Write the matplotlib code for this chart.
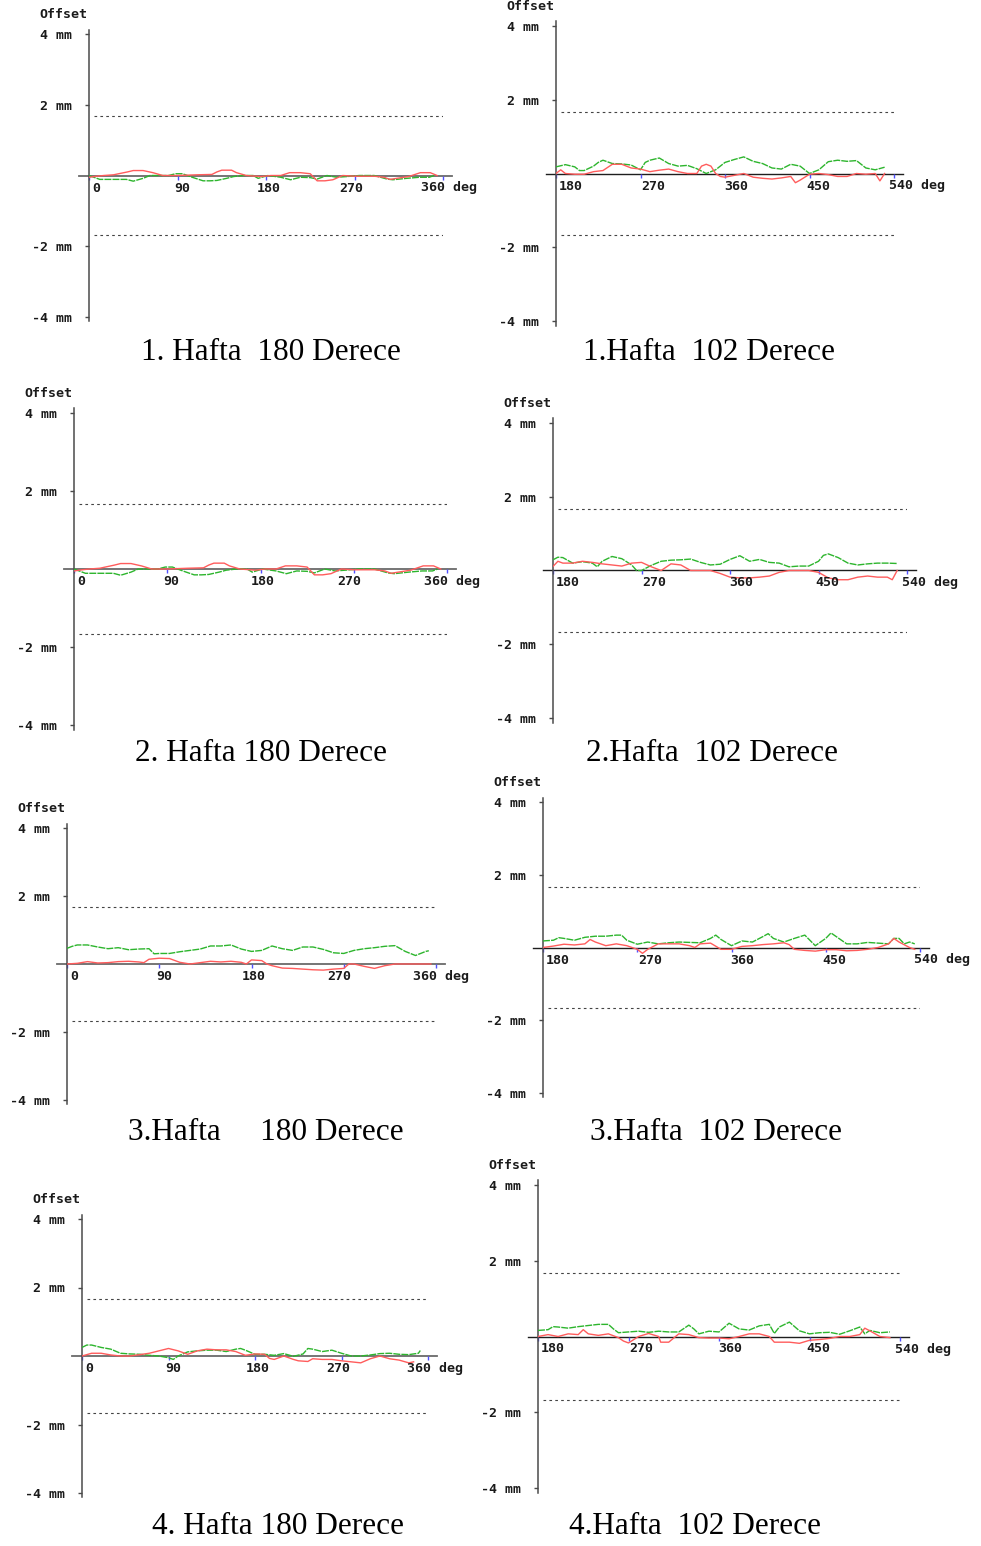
import matplotlib
matplotlib.use("Agg")
import matplotlib.pyplot as plt
from matplotlib.transforms import offset_copy

W, H = 981, 1546

captions = ["1. Hafta  180 Derece", "1.Hafta  102 Derece",
            "2. Hafta 180 Derece", "2.Hafta  102 Derece",
            "3.Hafta     180 Derece", "3.Hafta  102 Derece",
            "4. Hafta 180 Derece", "4.Hafta  102 Derece"]
y_ticks = [4, 2, -2, -4]
y_tick_labels = ["4 mm", "2 mm", "-2 mm", "-4 mm"]
limit_mm = 1.67

# --- 1. Hafta 180 Derece ---
w1_180_red_deg = [0, 8, 15, 25, 39, 45, 55, 65, 75, 90, 110, 125, 130, 135, 145, 150, 160, 175,
                  185, 195, 204, 215, 225, 232, 240, 248, 258, 270, 290, 300, 306, 313, 325, 337, 347, 354]
w1_180_red = [-0.05, -0.02, 0.0, 0.02, 0.1, 0.14, 0.14, 0.08, 0.0, 0.0, 0.02, 0.03, 0.1, 0.15, 0.15, 0.08, 0.0, -0.03,
              0.0, 0.0, 0.08, 0.08, 0.05, -0.15, -0.15, -0.12, 0.0, -0.02, -0.02, -0.05, -0.11, -0.08, -0.03, 0.08, 0.08, 0.0]
w1_180_green_deg = [0, 5, 11, 20, 30, 38, 45, 55, 62, 70, 81, 88, 95, 105, 116, 123, 130, 140, 147, 157, 167, 172,
                    182, 195, 205, 215, 225, 232, 242, 252, 262, 275, 290, 303, 309, 323, 336, 346, 351]
w1_180_green = [0, -0.05, -0.11, -0.11, -0.11, -0.11, -0.16, -0.08, 0.0, 0.0, 0.0, 0.05, 0.05, -0.05, -0.15, -0.15, -0.14,
                -0.08, -0.03, 0.0, 0.0, -0.08, 0.0, -0.05, -0.12, -0.05, -0.06, -0.10, 0.0, -0.05, -0.03, 0.0, 0.0,
                -0.10, -0.12, -0.08, -0.05, -0.05, 0.0]

# --- 1. Hafta 102 Derece ---
w1_102_red_deg = [180, 185, 190, 200, 210, 220, 230, 240, 250, 260, 270, 280, 290, 300, 310, 320, 330, 335, 340, 345,
                  350, 355, 360, 370, 380, 390, 400, 410, 420, 430, 435, 440, 450, 460, 470, 480, 490, 500, 510,
                  520, 525, 530]
w1_102_red = [0.0, 0.1, 0.0, -0.02, -0.02, 0.05, 0.08, 0.25, 0.25, 0.15, 0.12, 0.05, 0.09, 0.12, 0.05, 0.0, 0.0, 0.2,
              0.25, 0.2, 0.0, -0.08, -0.1, -0.05, 0.0, -0.1, -0.13, -0.15, -0.12, -0.08, -0.25, -0.18, -0.02, 0.0,
              -0.03, -0.08, -0.08, 0.0, -0.02, 0.0, -0.2, 0.0]
w1_102_green_deg = [180, 190, 200, 205, 210, 220, 225, 230, 240, 250, 260, 270, 275, 280, 290, 300, 310, 320, 330,
                    340, 350, 360, 370, 380, 390, 400, 410, 420, 430, 440, 450, 460, 470, 480, 490, 500, 510, 520, 530]
w1_102_green = [0.18, 0.24, 0.18, 0.08, 0.08, 0.2, 0.3, 0.36, 0.27, 0.26, 0.23, 0.1, 0.3, 0.36, 0.42, 0.27, 0.2, 0.22,
                0.13, 0.0, 0.1, 0.3, 0.38, 0.45, 0.33, 0.27, 0.15, 0.12, 0.25, 0.2, 0.0, 0.1, 0.32, 0.36, 0.33, 0.35,
                0.15, 0.1, 0.17]

# --- 2. Hafta 180 Derece ---
w2_180_red_deg = [0, 8, 15, 25, 39, 45, 55, 65, 75, 90, 110, 125, 130, 135, 145, 150, 160, 175,
                  185, 195, 204, 215, 225, 232, 240, 248, 258, 270, 290, 300, 306, 313, 325, 337, 347, 354]
w2_180_red = [-0.05, -0.02, 0.0, 0.02, 0.1, 0.14, 0.14, 0.08, 0.0, 0.0, 0.02, 0.03, 0.1, 0.15, 0.15, 0.08, 0.0, -0.03,
              0.0, 0.0, 0.08, 0.08, 0.05, -0.15, -0.15, -0.12, 0.0, -0.02, -0.02, -0.05, -0.11, -0.08, -0.03, 0.08, 0.08, 0.0]
w2_180_green_deg = [0, 5, 11, 20, 30, 38, 45, 55, 62, 70, 81, 88, 95, 105, 116, 123, 130, 140, 147, 157, 167, 172,
                    182, 195, 205, 215, 225, 232, 242, 252, 262, 275, 290, 303, 309, 323, 336, 346, 351]
w2_180_green = [0, -0.05, -0.11, -0.11, -0.11, -0.11, -0.16, -0.08, 0.0, 0.0, 0.0, 0.05, 0.05, -0.05, -0.15, -0.15, -0.14,
                -0.08, -0.03, 0.0, 0.0, -0.08, 0.0, -0.05, -0.12, -0.05, -0.06, -0.10, 0.0, -0.05, -0.03, 0.0, 0.0,
                -0.10, -0.12, -0.08, -0.05, -0.05, 0.0]

# --- 2. Hafta 102 Derece ---
w2_102_red_deg = [180, 185, 190, 200, 210, 220, 230, 240, 250, 260, 270, 280, 290, 300, 310, 320, 330, 340, 350, 360,
                  370, 380, 390, 400, 410, 420, 430, 440, 450, 460, 470, 480, 490, 500, 510, 520, 525, 530]
w2_102_red = [0.11, 0.25, 0.2, 0.2, 0.25, 0.22, 0.18, 0.15, 0.12, 0.2, 0.22, 0.1, 0.0, 0.18, 0.15, 0.0, 0.0, 0.0,
              -0.08, -0.18, -0.2, -0.2, -0.18, -0.15, -0.05, 0.0, 0.0, 0.0, -0.05, -0.2, -0.25, -0.25, -0.18, -0.15,
              -0.18, -0.18, -0.25, 0.0]
w2_102_green_deg = [180, 185, 190, 200, 210, 220, 225, 230, 240, 250, 260, 265, 270, 280, 290, 300, 310, 320, 330,
                    340, 350, 360, 370, 380, 390, 400, 410, 420, 430, 440, 450, 455, 460, 470, 480, 490, 500, 510,
                    520, 530]
w2_102_green = [0.29, 0.36, 0.35, 0.2, 0.24, 0.2, 0.1, 0.25, 0.38, 0.32, 0.15, 0.0, 0.0, 0.14, 0.25, 0.28, 0.29, 0.31,
                0.22, 0.15, 0.17, 0.3, 0.4, 0.25, 0.3, 0.22, 0.2, 0.1, 0.12, 0.12, 0.25, 0.41, 0.45, 0.35, 0.2, 0.15,
                0.18, 0.2, 0.2, 0.19]

# --- 3. Hafta 180 Derece ---
w3_180_red_deg = [0, 10, 20, 30, 40, 50, 60, 70, 75, 80, 90, 100, 110, 120, 130, 140, 150, 160, 170, 175, 180, 190,
                  195, 200, 210, 220, 230, 240, 250, 260, 270, 275, 280, 290, 300, 310, 320, 340, 355]
w3_180_red = [0.0, 0.02, 0.07, 0.03, 0.04, 0.07, 0.08, 0.06, 0.04, 0.14, 0.17, 0.16, 0.05, 0.0, 0.04, 0.08, 0.06, 0.08,
              0.05, 0.0, 0.12, 0.1, 0.0, -0.05, -0.12, -0.13, -0.15, -0.17, -0.18, -0.15, -0.13, 0.0, 0.0, -0.07,
              -0.13, -0.05, 0.0, 0.0, 0.0]
w3_180_green_deg = [0, 5, 10, 20, 30, 40, 50, 60, 70, 80, 85, 90, 100, 110, 120, 130, 140, 150, 160, 170, 180, 190,
                    200, 210, 220, 230, 240, 250, 260, 270, 280, 290, 300, 310, 320, 330, 340, 350, 353]
w3_180_green = [0.46, 0.52, 0.56, 0.56, 0.5, 0.45, 0.48, 0.42, 0.44, 0.45, 0.3, 0.31, 0.31, 0.36, 0.4, 0.44, 0.53, 0.53,
                0.56, 0.44, 0.37, 0.4, 0.53, 0.45, 0.4, 0.5, 0.5, 0.43, 0.33, 0.31, 0.4, 0.45, 0.48, 0.52, 0.54, 0.37,
                0.25, 0.37, 0.39]

# --- 3. Hafta 102 Derece ---
w3_102_red_deg = [180, 190, 200, 210, 220, 225, 230, 240, 250, 260, 270, 275, 280, 290, 300, 310, 320, 325, 330, 340,
                  350, 360, 370, 380, 390, 400, 410, 415, 420, 430, 440, 450, 460, 470, 480, 490, 500, 510, 515,
                  520, 530, 535]
w3_102_red = [0.0, 0.04, 0.09, 0.07, 0.1, 0.22, 0.15, 0.05, 0.1, 0.05, -0.05, -0.16, -0.05, 0.1, 0.1, 0.1, 0.05, 0.0,
              0.1, 0.12, -0.05, -0.05, 0.03, 0.05, 0.08, 0.1, 0.13, 0.08, -0.05, -0.08, -0.1, -0.06, -0.06, -0.09,
              -0.08, -0.05, 0.0, 0.1, 0.25, 0.15, 0.0, -0.05]
w3_102_green_deg = [180, 190, 195, 200, 210, 220, 230, 240, 250, 255, 260, 270, 280, 290, 300, 310, 320, 330, 340,
                    345, 350, 360, 370, 380, 390, 395, 400, 410, 420, 430, 440, 450, 455, 460, 470, 480, 490, 500,
                    510, 515, 520, 525, 530, 535]
w3_102_green = [0.18, 0.2, 0.27, 0.25, 0.2, 0.28, 0.31, 0.31, 0.34, 0.34, 0.2, 0.09, 0.15, 0.1, 0.13, 0.15, 0.14, 0.13,
                0.25, 0.34, 0.22, 0.05, 0.18, 0.15, 0.3, 0.38, 0.25, 0.15, 0.25, 0.34, 0.05, 0.25, 0.4, 0.3, 0.1, 0.1,
                0.14, 0.12, 0.1, 0.25, 0.25, 0.1, 0.15, 0.1]

# --- 4. Hafta 180 Derece ---
w4_180_red_deg = [0, 10, 20, 30, 40, 50, 60, 70, 80, 90, 100, 110, 120, 130, 140, 150, 160, 170, 180, 190, 195, 200,
                  210, 220, 225, 235, 240, 250, 260, 270, 280, 290, 300, 310, 320, 330, 340, 345]
w4_180_red = [0.0, 0.08, 0.08, 0.03, 0.0, 0.0, 0.04, 0.08, 0.15, 0.22, 0.15, 0.05, 0.15, 0.2, 0.18, 0.18, 0.13, 0.02,
              0.06, 0.05, -0.07, -0.1, 0.0, -0.1, -0.14, -0.16, -0.08, -0.1, -0.1, -0.14, -0.17, -0.2, -0.08, 0.0,
              -0.08, -0.12, -0.2, -0.17]
w4_180_green_deg = [0, 5, 10, 20, 30, 40, 50, 60, 70, 80, 90, 95, 100, 110, 120, 130, 140, 150, 160, 165, 170, 180,
                    190, 200, 210, 220, 230, 235, 240, 250, 260, 270, 280, 290, 300, 310, 320, 330, 340, 350, 352]
w4_180_green = [0.25, 0.32, 0.32, 0.25, 0.2, 0.08, 0.06, 0.05, 0.02, 0.0, -0.05, -0.1, 0.0, 0.12, 0.15, 0.17, 0.17,
                0.13, 0.2, 0.22, 0.17, 0.05, 0.05, 0.02, 0.07, -0.01, 0.06, 0.22, 0.2, 0.13, 0.17, 0.08, 0.0, 0.0,
                0.03, 0.07, 0.08, 0.05, 0.04, 0.08, 0.16]

# --- 4. Hafta 102 Derece ---
w4_102_red_deg = [180, 190, 200, 210, 220, 225, 230, 240, 250, 260, 265, 270, 280, 290, 300, 302, 310, 320, 330, 340,
                  350, 360, 370, 380, 390, 400, 410, 415, 420, 430, 440, 450, 460, 470, 480, 490, 500, 505, 510,
                  520, 530]
w4_102_red = [0.0, 0.05, 0.0, 0.07, 0.05, 0.18, 0.07, 0.03, 0.07, -0.03, -0.12, -0.17, 0.0, 0.08, 0.0, -0.15, -0.15,
              0.07, 0.05, -0.03, -0.04, -0.04, -0.06, 0.0, 0.07, 0.07, 0.0, -0.15, -0.15, -0.15, -0.18, -0.1, -0.08,
              -0.05, 0.0, 0.0, 0.05, 0.22, 0.15, 0.0, -0.03]
w4_102_green_deg = [180, 190, 195, 200, 210, 220, 230, 240, 250, 255, 260, 270, 280, 290, 300, 310, 320, 330, 335,
                    340, 350, 360, 370, 380, 390, 400, 410, 415, 420, 430, 440, 450, 460, 470, 480, 490, 500, 505,
                    510, 520, 530]
w4_102_green = [0.16, 0.18, 0.26, 0.25, 0.22, 0.26, 0.29, 0.32, 0.32, 0.2, 0.1, 0.12, 0.14, 0.11, 0.14, 0.12, 0.12,
                0.3, 0.2, 0.07, 0.14, 0.12, 0.35, 0.2, 0.17, 0.28, 0.32, 0.08, 0.25, 0.38, 0.15, 0.07, 0.1, 0.11,
                0.06, 0.15, 0.25, 0.07, 0.16, 0.1, 0.12]

series = [
    (0, w1_180_red_deg, w1_180_red, w1_180_green_deg, w1_180_green),
    (180, w1_102_red_deg, w1_102_red, w1_102_green_deg, w1_102_green),
    (0, w2_180_red_deg, w2_180_red, w2_180_green_deg, w2_180_green),
    (180, w2_102_red_deg, w2_102_red, w2_102_green_deg, w2_102_green),
    (0, w3_180_red_deg, w3_180_red, w3_180_green_deg, w3_180_green),
    (180, w3_102_red_deg, w3_102_red, w3_102_green_deg, w3_102_green),
    (0, w4_180_red_deg, w4_180_red, w4_180_green_deg, w4_180_green),
    (180, w4_102_red_deg, w4_102_red, w4_102_green_deg, w4_102_green),
]

# pixel layout: first tick x, last tick x, zero line y, px per mm, caption centre
layout = [
    (89, 443, 175.5, 35.4, 271, 353),
    (556, 894, 173.5, 36.9, 709, 353),
    (74, 447, 569, 39.0, 261, 753),
    (553, 907, 570.5, 36.9, 712, 753),
    (67, 436, 964, 34.0, 266, 1133),
    (543, 920, 947.5, 36.4, 716, 1133),
    (82, 428, 1356, 34.25, 278, 1527),
    (538, 900, 1336.5, 37.9, 695, 1527),
]

mono = dict(family="DejaVu Sans Mono", weight="bold", size=9.5, color="#1a1a1a")

fig = plt.figure(figsize=(W / 100, H / 100), dpi=100)
fig.patch.set_facecolor("white")

for i, ((start, rdeg, rval, gdeg, gval), (x0, x1, y0, mm, cx, cy)) in enumerate(zip(series, layout)):
    left_panel = (start == 0)
    ylim = 4.12
    top = y0 - ylim * mm
    bot = y0 + ylim * mm
    width = x1 - x0
    ax = fig.add_axes([x0 / W, 1 - bot / H, width / W, (bot - top) / H])
    ax.set_xlim(start, start + 360)
    ax.set_ylim(-ylim, ylim)
    ax.patch.set_alpha(0)
    ax.spines["top"].set_visible(False)
    ax.spines["right"].set_visible(False)
    ax.spines["left"].set_color("#4a4a4a")
    ax.spines["left"].set_linewidth(1.1)
    ax.spines["bottom"].set_position(("data", 0))
    ax.spines["bottom"].set_color("none")

    xt = [start + k * 90 for k in range(5)]
    ax.set_xticks(xt)
    ax.set_xticklabels([])
    ax.tick_params(axis="x", direction="out", length=3, width=1, color="#5050ff")
    ax.set_yticks(y_ticks)
    ax.set_yticklabels(y_tick_labels, fontdict=mono)
    ax.tick_params(axis="y", direction="out", length=3, width=1, color="#4a4a4a", pad=9)

    # zero axis line, running a little past both ends
    ax.axhline(0, xmin=-10 / width, xmax=1 + 9 / width, clip_on=False,
               color="#6a6a6a" if left_panel else "#1e1e1e", lw=1.3 if left_panel else 1.0, zorder=1)

    # tolerance limits
    ppd = width / 360
    ax.hlines([limit_mm, -limit_mm], start + 5 / ppd, start + 360, colors="#444444",
              linestyles=(0, (2.4, 2.9)), lw=0.8)

    ax.plot(gdeg, gval, color="#2db52d", lw=1.0, ls=(0, (5, 0.8)), zorder=3)
    ax.plot(rdeg, rval, color="#ff5c5c", lw=1.0, zorder=3)

    # x labels, drawn slightly tighter than the tick spacing as in the screenshots
    ratio = 0.93 if left_panel else 0.977
    lab_tr = offset_copy(ax.transData, fig=fig, x=0, y=-6, units="dots")
    for k, t in enumerate(xt):
        s = str(t) + (" deg" if k == 4 else "")
        ax.text(start + 3 / ppd + k * 90 * ratio, 0, s, transform=lab_tr, ha="left", va="top",
                fontdict=mono)

    off_tr = offset_copy(ax.transData, fig=fig, x=-50, y=19, units="dots")
    ax.text(start, 4, "Offset", transform=off_tr, ha="left", va="center", fontdict=mono)

    fig.text(cx / W, 1 - cy / H, captions[i], ha="center", va="center",
             family="Liberation Serif", size=22.5, color="black")

fig.savefig("out.png", dpi=100, facecolor="white")
